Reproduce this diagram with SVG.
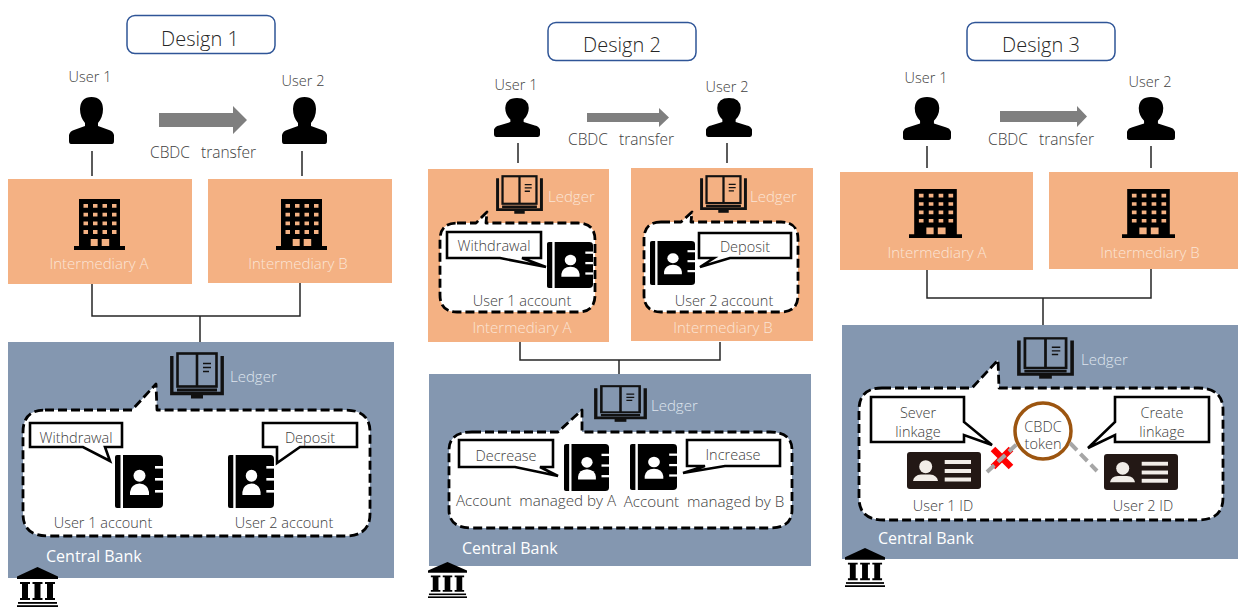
<svg xmlns="http://www.w3.org/2000/svg" width="1238" height="608" viewBox="0 0 1238 608">
<style>
text{font-family:"Open Sans","Noto Sans","Liberation Sans",sans-serif;font-weight:300;fill:#404040;font-size:14.5px;white-space:pre}
.m{text-anchor:middle}
.title{font-size:20px;text-anchor:middle;fill:#262626}
.tr{font-size:15.5px;text-anchor:middle;word-spacing:1.5px}
.am{font-size:15.2px;text-anchor:middle}
.lt{fill:#fbe5d6;font-size:15px}
.lb{fill:#dfe5ee;font-size:15px}
.cb{fill:#fff;font-size:16px;font-weight:400}
.tb{fill:#fff;stroke:#2f5597;stroke-width:1.5}
.or{fill:#f4b183}
.bl{fill:#8497b0}
.bub{fill:#fff;stroke:#000;stroke-width:2.8;stroke-dasharray:9 4;stroke-linejoin:round}
.call{fill:#fff;stroke:#000;stroke-width:2.6;stroke-linejoin:miter}
.ln{fill:none;stroke:#262626;stroke-width:1.5}
.ar{fill:#7f7f7f}
.gd{fill:none;stroke:#a6a6a6;stroke-width:4;stroke-dasharray:10 5}
</style>
<defs>
<symbol id="person" viewBox="0 0 45 47" preserveAspectRatio="none"><path d="M2 47Q0 47 0 44L0 38Q1 34 5 33L16 29L16 26Q11 20 11 12Q11.500 0 22.500 0Q33.500 0 34 12Q34 20 29 26L29 29L40 33Q44 34 45 38L45 44Q45 47 43 47Z"/></symbol>
<symbol id="building" viewBox="0 0 51 51" preserveAspectRatio="none"><path d="M5 0H46V47H51V51H0V47H5Z"/><path fill="#f4b183" d="M9.500 5h4.500v3.800h-4.500zM19 5h4.500v3.800h-4.500zM28.500 5h4.500v3.800h-4.500zM38 5h4.500v3.800h-4.500zM9.500 13.700h4.500v3.800h-4.500zM19 13.700h4.500v3.800h-4.500zM28.500 13.700h4.500v3.800h-4.500zM38 13.700h4.500v3.800h-4.500zM9.500 22.400h4.500v3.800h-4.500zM19 22.400h4.500v3.800h-4.500zM28.500 22.400h4.500v3.800h-4.500zM38 22.400h4.500v3.800h-4.500zM9.500 31.100h4.500v3.800h-4.500zM19 31.100h4.500v3.800h-4.500zM28.500 31.100h4.500v3.800h-4.500zM38 31.100h4.500v3.800h-4.500zM16.700 40h7v7h-7zM27.700 40h7.500v7h-7.500z"/></symbol>
<symbol id="book" viewBox="0 0 54 48" preserveAspectRatio="none"><g fill="none" stroke="#111"><rect x="7.500" y="1.500" width="39" height="33" stroke-width="2.600"/><path d="M27 1.500V34.500" stroke-width="2.600"/><path d="M33 11.500H41M33 15.500H41M33 19.500H39" stroke-width="1.600"/><path d="M1.800 4V41.500H52.200V4" stroke-width="3.400"/><path d="M7 38H47" stroke-width="3"/></g><rect x="21" y="42" width="12" height="4.500" fill="#111"/></symbol>
<symbol id="contact" viewBox="0 0 48 53" preserveAspectRatio="none"><path d="M8 0H44Q48 0 48 4V49Q48 53 44 53H8ZM2 0H5.500V53H2Q0 53 0 51V2Q0 0 2 0Z"/><g fill="#fff"><rect x="40" y="11" width="8" height="2.600"/><rect x="40" y="23" width="8" height="2.600"/><rect x="40" y="35" width="8" height="2.600"/><circle cx="24.500" cy="20.700" r="6"/><path d="M15 40V37Q16 29 24.500 28.500Q33 29 34 37V40Z"/></g></symbol>
<symbol id="bank" viewBox="0 0 41 40" preserveAspectRatio="none"><path d="M20.500 0L41 9.500V12H0V9.500Z"/><path d="M3 15h10v2h-2v14h2v2H3v-2h2V17H3zM15.500 15h10v2h-2v14h2v2h-10v-2h2V17h-2zM28 15h10v2h-2v14h2v2H28v-2h2V17h-2z"/><rect x="1" y="35" width="39" height="1.800"/><rect x="0" y="38.200" width="41" height="1.800"/></symbol>
<symbol id="idcard" viewBox="0 0 74 37" preserveAspectRatio="none"><rect width="74" height="37" rx="3" fill="#231815"/><g fill="#f2ede8"><circle cx="18.700" cy="14.700" r="6.500"/><path d="M6 29Q7 23 14 22.500H23Q30 23 31 29Z"/><rect x="37.700" y="8" width="26.300" height="4"/><rect x="37.700" y="17" width="26.300" height="4"/><rect x="37.700" y="25.500" width="26.300" height="4"/></g></symbol>
</defs>

<g id="design1">
<g id="d1-title"><rect class="tb" x="127" y="15.500" width="148" height="38" rx="8"/><text class="title" x="200" y="46">Design 1</text></g>
<g id="d1-user1"><text class="m" x="90" y="82">User 1</text><use href="#person" x="69" y="97" width="45" height="47"/></g>
<g id="d1-user2"><text class="m" x="303" y="86">User 2</text><use href="#person" x="282" y="97" width="45" height="47"/></g>
<g id="d1-transfer"><text class="tr" x="203" y="158">CBDC  transfer</text></g>
<g id="d1-intA"><rect class="or" x="8" y="179" width="184" height="105"/><use href="#building" x="74" y="199" width="51" height="51"/><text class="m lt" x="99" y="269">Intermediary A</text></g>
<g id="d1-intB"><rect class="or" x="208" y="179" width="184" height="104"/><use href="#building" x="276" y="199" width="51" height="51"/><text class="m lt" x="298" y="269">Intermediary B</text></g>
<g id="d1-cb"><rect class="bl" x="8" y="342" width="386" height="236"/>
<use href="#book" x="170" y="352" width="54" height="48"/><text class="lb" x="230" y="382">Ledger</text>
<path class="bub" d="M45 410H132L156 384L157 410H345Q370 410 370 432V514Q370 536 345 536H48Q23 536 23 514V432Q23 410 45 410Z"/>
<path class="call" d="M30 423H122V447H105L110 461L83 447H30Z"/><text class="m" x="76" y="443">Withdrawal</text>
<path class="call" d="M263 423H357V447H300L277 463L277 447H263Z"/><text class="m" x="310" y="443">Deposit</text>
<use href="#contact" x="115" y="455" width="48" height="53"/><use href="#contact" x="228" y="455" width="46" height="53"/>
<text class="m" x="103" y="528">User 1 account</text><text class="m" x="284" y="528">User 2 account</text>
<text class="cb" x="46" y="562">Central Bank</text></g>
<g id="d1-bank"><use href="#bank" x="17" y="567" width="41" height="40"/></g>
</g>

<g id="design2">
<g id="d2-title"><rect class="tb" x="548" y="22.500" width="148" height="38" rx="8"/><text class="title" x="622" y="52">Design 2</text></g>
<g id="d2-user1"><text class="m" x="516" y="90">User 1</text><use href="#person" x="494" y="98" width="46" height="39"/></g>
<g id="d2-user2"><text class="m" x="727" y="92">User 2</text><use href="#person" x="706" y="98" width="46" height="39"/></g>
<g id="d2-transfer"><text class="tr" x="621" y="145">CBDC  transfer</text></g>
<g id="d2-intA"><rect class="or" x="428" y="169" width="181" height="173"/>
<use href="#book" x="496" y="175" width="47" height="40"/><text class="lt" x="548" y="202">Ledger</text>
<path class="bub" d="M457 223H476L487 212L486 223H578Q595 223 595 240V295Q595 312 578 312H457Q440 312 440 295V240Q440 223 457 223Z"/>
<path class="call" d="M447 232H541V258H522L546 267L500 258H447Z"/><text class="m" x="494" y="251">Withdrawal</text>
<use href="#contact" x="547" y="242" width="46" height="46"/>
<text class="m" x="522" y="306">User 1 account</text><text class="m lt" x="522" y="333">Intermediary A</text></g>
<g id="d2-intB"><rect class="or" x="631" y="168" width="182" height="173"/>
<use href="#book" x="700" y="175" width="47" height="39"/><text class="lt" x="750" y="202">Ledger</text>
<path class="bub" d="M661 222H681L692 212L691 222H781Q798 222 798 239V295Q798 312 781 312H661Q644 312 644 295V239Q644 222 661 222Z"/>
<use href="#contact" x="650" y="241" width="45" height="44"/>
<path class="call" d="M699 233H791V258H730L700 267L714 258H699Z"/><text class="m" x="745" y="252">Deposit</text>
<text class="m" x="724" y="306">User 2 account</text><text class="m lt" x="723" y="333">Intermediary B</text></g>
<g id="d2-cb"><rect class="bl" x="429" y="374" width="382" height="192"/>
<use href="#book" x="594" y="385" width="53" height="38"/><text class="lb" x="651" y="411">Ledger</text>
<path class="bub" d="M472 432H558L582 410L582 432H770Q792 432 792 450V510Q792 528 770 528H472Q449 528 449 510V450Q449 432 472 432Z"/>
<path class="call" d="M459 440H553V467H540L558 476L515 467H459Z"/><text class="m" x="506" y="461">Decrease</text>
<use href="#contact" x="564" y="444" width="45" height="47"/><use href="#contact" x="630" y="444" width="47" height="46"/>
<path class="call" d="M687 440H780V466H725L683 473L705 466H687Z"/><text class="m" x="733" y="460">Increase</text>
<text class="am" x="536" y="506">Account  managed by A</text><text class="am" x="704" y="507">Account  managed by B</text>
<text class="cb" x="462" y="554">Central Bank</text></g>
<g id="d2-bank"><use href="#bank" x="428" y="562" width="39" height="36"/></g>
</g>

<g id="design3">
<g id="d3-title"><rect class="tb" x="967" y="22.500" width="148" height="38" rx="8"/><text class="title" x="1041" y="52">Design 3</text></g>
<g id="d3-user1"><text class="m" x="926" y="83">User 1</text><use href="#person" x="903" y="97" width="48" height="43"/></g>
<g id="d3-user2"><text class="m" x="1150" y="87">User 2</text><use href="#person" x="1127" y="97" width="48" height="43"/></g>
<g id="d3-transfer"><text class="tr" x="1041" y="145">CBDC  transfer</text></g>
<g id="d3-intA"><rect class="or" x="840" y="172" width="193" height="98"/><use href="#building" x="909" y="189" width="53" height="49"/><text class="m lt" x="937" y="258">Intermediary A</text></g>
<g id="d3-intB"><rect class="or" x="1049" y="172" width="189" height="97"/><use href="#building" x="1122" y="189" width="53" height="49"/><text class="m lt" x="1150" y="258">Intermediary B</text></g>
<g id="d3-cb"><rect class="bl" x="842" y="325" width="396" height="234"/>
<use href="#book" x="1017" y="337" width="57" height="43"/><text class="lb" x="1081" y="365">Ledger</text>
<path class="bub" d="M882 388H972L998 360L999 388H1198Q1223 388 1223 410V498Q1223 520 1198 520H884Q859 520 859 498V410Q859 388 882 388Z"/>
<path class="call" d="M871 397H964V422L992 445L964 435V442H871Z"/><text class="m" x="918" y="418">Sever</text><text class="m" x="918" y="437">linkage</text>
<path class="call" d="M1115 397H1209V442H1115V435L1088 448L1115 422Z"/><text class="m" x="1162" y="418">Create</text><text class="m" x="1162" y="437">linkage</text>
<path fill="none" stroke="#ff0000" stroke-width="6.500" d="M993 449L1011 467M1011 449L993 467"/>
<use href="#idcard" x="907" y="452" width="74" height="37"/><use href="#idcard" x="1104" y="454" width="74" height="36"/>
<circle cx="1043" cy="431" r="28" fill="#fff" stroke="#9c5510" stroke-width="3.500"/>
<text class="m" x="1043" y="432">CBDC</text><text class="m" x="1043" y="449">token</text>
<text class="m" x="943" y="511">User 1 ID</text><text class="m" x="1143" y="511">User 2 ID</text>
<text class="cb" x="878" y="544">Central Bank</text></g>
<g id="d3-bank"><use href="#bank" x="845" y="548" width="40" height="39"/></g>
</g>

<g id="connectors">
<path class="ln" d="M92 151V176M302 151V176M92 284V316H300V283M200 316V342"/>
<path class="ar" d="M159 113H233V106L247 120L233 134V127H159Z"/>
<path class="ln" d="M518 143V163M727 143V163M520 342V360H720V342M619 360V374"/>
<path class="ar" d="M587 113H659V108L669 117.500L659 127V122H587Z"/>
<path class="ln" d="M927 146V168M1151 146V168M927 270V298H1151V269M1043 298V325"/>
<path class="ar" d="M1000 111H1077V106L1087 116.500L1077 127V122H1000Z"/>
<path class="gd" d="M987 472L1018 443M1070 443L1097 471"/>
</g>
</svg>
